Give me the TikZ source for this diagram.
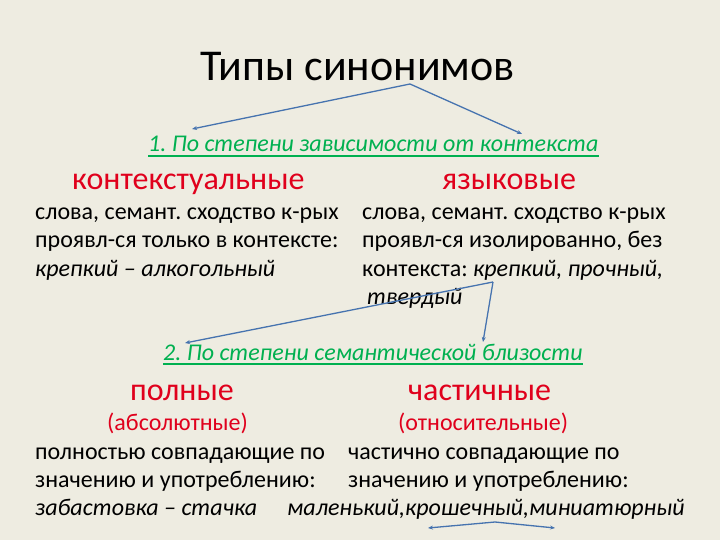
\documentclass[tikz,border=0pt]{standalone}
\usepackage{fontspec}
\setmainfont{Carlito}
\usetikzlibrary{arrows.meta}
\frenchspacing
\definecolor{bgtan}{HTML}{EEECE1}
\definecolor{hdgreen}{HTML}{00B050}
\definecolor{hdred}{RGB}{224,0,28}
\definecolor{conn}{RGB}{70,115,175}
\tikzset{
  txt/.style={anchor=base west, inner sep=0pt, font=\fontsize{24}{28}\selectfont},
  ttl/.style={anchor=base west, inner sep=0pt, font=\fontsize{44}{52}\selectfont},
  redhd/.style={anchor=base west, inner sep=0pt, text=hdred, font=\fontsize{32}{38}\selectfont},
  redsub/.style={anchor=base west, inner sep=0pt, text=hdred, font=\fontsize{24}{28}\selectfont},
  grhd/.style={anchor=base west, inner sep=0pt, text=hdgreen, font=\fontsize{24}{28}\selectfont\itshape},
  uline/.style={draw=hdgreen, line width=2pt},
  arr/.style={draw=conn, line width=1.3pt, -{Stealth[length=5pt,width=4pt]}}
}
\begin{document}
\begin{tikzpicture}[x=1pt,y=-1pt]
\fill[bgtan] (0,0) rectangle (720,540);
\useasboundingbox (0,0) rectangle (720,540);

\node[ttl] (title) at (200,81) {Типы синонимов};

\node[grhd] (h1) at (148,152) {1. По степени зависимости от контекста};
\draw[uline] ([yshift=-4pt]h1.base west) -- ([yshift=-4pt]h1.base east);

\node[redhd] (ctx) at (72,190) {контекстуальные};
\node[redhd] (lang) at (442,190) {языковые};

\node[txt] (l1) at (35,219) {слова, семант. сходство к-рых};
\node[txt] (l2) at (35,247.5) {проявл-ся только в контексте:};
\node[txt] (l3) at (35,276) {\itshape крепкий – алкогольный};

\node[txt] (r1) at (362,219) {слова, семант. сходство к-рых};
\node[txt] (r2) at (362,247.5) {проявл-ся изолированно, без};
\node[txt] (r3) at (362,276) {контекста: \textit{крепкий, прочный,}};
\node[txt] (r4) at (367,304) {\itshape твердый};

\node[grhd] (h2) at (163,360) {2. По степени семантической близости};
\draw[uline] ([yshift=-4pt]h2.base west) -- ([yshift=-4pt]h2.base east);

\node[redhd] (full) at (130,400) {полные};
\node[redhd] (part) at (408,400) {частичные};
\node[redsub] (abs) at (107,430) {(абсолютные)};
\node[redsub] (rel) at (398,430) {(относительные)};

\node[txt] (b1) at (35,459) {полностью совпадающие по};
\node[txt] (b2) at (35,487) {значению и употреблению:};
\node[txt] (b3) at (35,515) {\itshape забастовка – стачка};

\node[txt] (c1) at (348,459) {частично совпадающие по};
\node[txt] (c2) at (348,487) {значению и употреблению:};
\node[txt] (c3) at (287,515) {\itshape маленький,крошечный,миниатюрный};

\coordinate (ap1) at (410,84);
\coordinate (e1l) at (192,129);
\coordinate (e1r) at (522,134);
\draw[arr] (ap1) -- (e1l);
\draw[arr] (ap1) -- (e1r);

\coordinate (ap2) at (493,282);
\coordinate (e2l) at (185,343);
\coordinate (e2r) at (483,342);
\draw[arr] (ap2) -- (e2l);
\draw[arr] (ap2) -- (e2r);

\coordinate (ap3) at (495,522);
\coordinate (e3l) at (428,528);
\coordinate (e3r) at (555,528);
\draw[arr] (ap3) -- (e3l);
\draw[arr] (ap3) -- (e3r);
\end{tikzpicture}
\end{document}
